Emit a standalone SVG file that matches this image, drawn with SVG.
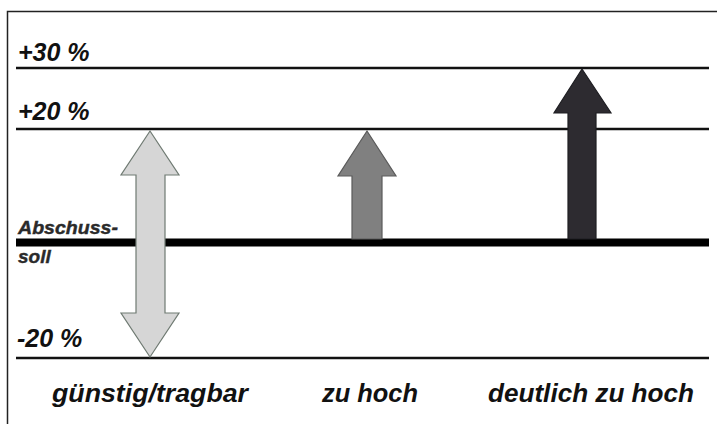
<svg xmlns="http://www.w3.org/2000/svg" width="717" height="424" viewBox="0 0 717 424">
<style>
.lbl{font-family:"Liberation Sans",Arial,sans-serif;font-weight:bold;font-style:italic;fill:#111}
.big{font-size:25px}
.small{font-size:19px;fill:#2a2a2a;stroke:#2a2a2a;stroke-width:0.4}
.ln{stroke:#111;stroke-width:2.5;fill:none}
.arr{stroke-width:1.2;stroke-linejoin:miter}
</style>
<rect width="717" height="424" fill="#fff"/>
<path d="M7.5 424 V11.5 H717" fill="none" stroke="#222" stroke-width="1.5"/>
<g id="scale">
<line class="ln" x1="16" y1="68" x2="709" y2="68"/>
<line class="ln" x1="16" y1="129" x2="709" y2="129"/>
<line x1="16" y1="242.5" x2="709" y2="242.5" stroke="#000" stroke-width="8"/>
<line class="ln" x1="16" y1="358" x2="709" y2="358"/>
<text class="lbl big" x="18" y="61">+30 %</text>
<text class="lbl big" x="18" y="120">+20 %</text>
<text class="lbl small" x="18" y="234" textLength="100" lengthAdjust="spacingAndGlyphs">Abschuss-</text>
<text class="lbl small" x="18" y="263">soll</text>
<text class="lbl big" x="17" y="347">-20 %</text>
</g>
<g id="connectors">
<polygon id="arrow-guenstig" class="arr" fill="#d6d6d6" stroke="#6f7a72" points="150,131 179,175 165,175 165,313 179,313 150,357 121,313 136,313 136,175 121,175"/>
<polygon id="arrow-zuhoch" class="arr" fill="#808080" stroke="#5a5a5a" points="367,131 396,176 382,176 382,239 352,239 352,176 338,176"/>
<polygon id="arrow-deutlich" class="arr" fill="#2d2b30" stroke="#1e1e22" points="582,69 611,113 596,113 596,239 568,239 568,113 554,113"/>
</g>
<g id="labels">
<text class="lbl big" x="52" y="402" textLength="196" lengthAdjust="spacingAndGlyphs">günstig/tragbar</text>
<text class="lbl big" x="322" y="402" textLength="96" lengthAdjust="spacingAndGlyphs">zu hoch</text>
<text class="lbl big" x="488" y="402" textLength="206" lengthAdjust="spacingAndGlyphs">deutlich zu hoch</text>
</g>
</svg>
